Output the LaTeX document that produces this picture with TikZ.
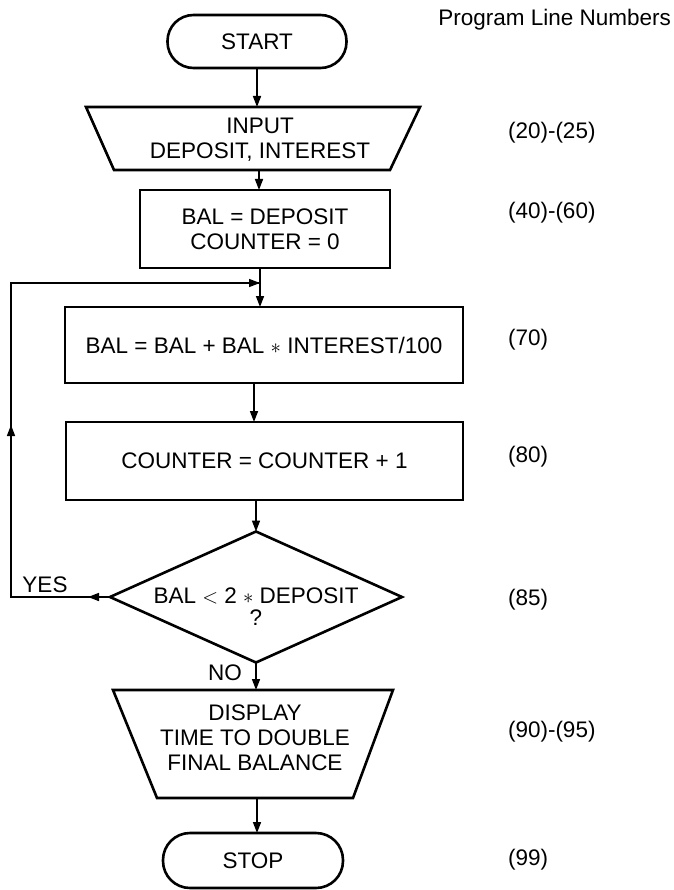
\documentclass[tikz,border=0pt]{standalone}
\usepackage{fontspec}
\setmainfont{Liberation Sans}
\usetikzlibrary{arrows.meta,shapes.geometric}
\begin{document}
\begin{tikzpicture}[x=1pt,y=-1pt,
  every node/.style={font=\fontsize{22.5}{25}\selectfont, inner sep=0pt, outer sep=0pt},
  box/.style={draw, line width=2.6pt, line join=miter},
  txt/.style={align=center},
  conn/.style={line width=1.6pt},
  arr/.style={conn, -{Triangle[length=11pt,width=8pt]}},
  lbl/.style={anchor=west}]
\useasboundingbox (0,0) rectangle (673,890);

% header
\node[anchor=east] (hdr) at (671,20) {Program Line Numbers};

% START
\node[box, rounded corners=26pt, minimum width=179pt, minimum height=53pt] (start) at (257,41.5) {START};

% INPUT trapezoid
\draw[box] (86,107) -- (420,107) -- (390,170) -- (114,170) -- cycle;
\coordinate (inTop) at (257,107);
\coordinate (inBot) at (259,170);
\node[txt] (input) at (260,139.5) {INPUT\\DEPOSIT, INTEREST};

% BAL = DEPOSIT
\node[box, minimum width=250pt, minimum height=78pt, txt] (bal) at (265,229) {BAL = DEPOSIT\\COUNTER = 0};

% loop junction
\coordinate (junc) at (260,283);

% update
\node[box, minimum width=398pt, minimum height=76pt] (upd) at (264,345) {BAL = BAL + BAL $\ast$ INTEREST/100};

% counter
\node[box, minimum width=397pt, minimum height=78pt] (cnt) at (264.5,461) {COUNTER = COUNTER + 1};

% decision
\node[box, diamond, minimum width=292pt, minimum height=131pt] (dec) at (256,597) {};
\node[txt] (dectext) at (256,607) {BAL $<$ 2 $\ast$ DEPOSIT\\[-3pt]?};

% display trapezoid
\draw[box] (113,690) -- (393,690) -- (353,798) -- (157,798) -- cycle;
\coordinate (dispTop) at (256,690);
\coordinate (dispBot) at (257,798);
\node[txt] (disp) at (255,738) {DISPLAY\\TIME TO DOUBLE\\FINAL BALANCE};

% STOP
\node[box, rounded corners=27pt, minimum width=180pt, minimum height=55pt] (stop) at (253,860.5) {STOP};

% labels
\node (yes) at (45,585) {YES};
\node (no) at (225,673) {NO};

\node[lbl] (l1) at (508,133) {(20)-(25)};
\node[lbl] (l2) at (508,213) {(40)-(60)};
\node[lbl] (l3) at (508,340) {(70)};
\node[lbl] (l4) at (508,457) {(80)};
\node[lbl] (l5) at (508,600) {(85)};
\node[lbl] (l6) at (508,732) {(90)-(95)};
\node[lbl] (l7) at (508,860) {(99)};

% connectors
\draw[arr] (start.south) -- (inTop);
\draw[arr] (inBot) -- (inBot |- bal.north);
\draw[arr] (bal.south -| junc) -- (junc |- upd.north);
\draw[arr] ([xshift=-10pt]upd.south) -- ([xshift=-10pt]upd.south |- cnt.north);
\draw[arr] (cnt.south -| dec.north) -- (dec.north);
\draw[arr] (dec.south) -- (dispTop);
\draw[arr] (dispBot) -- (dispBot |- stop.north);

% loop back
\coordinate (lb) at (11,597);
\coordinate (lt) at (11,283);
\coordinate (yesTip) at (88,597);
\coordinate (upTip) at (11,425);
\draw[conn, line join=miter] (dec.west) -- (lb) -- (lt) -- (junc);
\draw[arr] (dec.west) -- (yesTip);
\draw[arr] (lb) -- (upTip);
\draw[arr] (lt) -- (junc);
\end{tikzpicture}
\end{document}
